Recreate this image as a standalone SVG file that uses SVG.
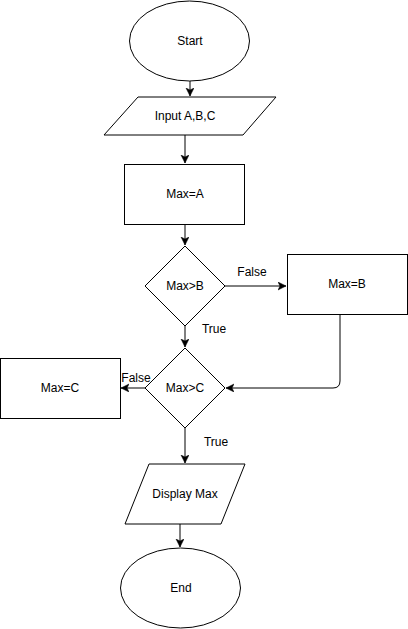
<svg xmlns="http://www.w3.org/2000/svg" width="408" height="629" viewBox="0 0 408 629">
<style>
.s{fill:#fff;stroke:#000;stroke-width:1}
.t{font-family:"Liberation Sans",Arial,sans-serif;font-size:12px;fill:#000;text-anchor:middle;dominant-baseline:central}
.c{fill:none;stroke:#000;stroke-width:1}
</style>
<defs>
<marker id="a" markerUnits="userSpaceOnUse" markerWidth="10" markerHeight="10" refX="8" refY="4" orient="auto">
<path d="M0,0 L8,4 L0,8 L2,4 z" fill="#000" stroke="#000" stroke-width="0.5"/>
</marker>
</defs>
<rect width="408" height="629" fill="#fff"/>
<g id="connectors">
<path class="c" d="M190,81 V96" marker-end="url(#a)"/>
<path class="c" d="M185,135 V163" marker-end="url(#a)"/>
<path class="c" d="M185,224 V245" marker-end="url(#a)"/>
<path class="c" d="M225,286 H286" marker-end="url(#a)"/>
<path class="c" d="M185,326 V347" marker-end="url(#a)"/>
<path class="c" d="M340,314 V381 Q340,388 333,388 H226" marker-end="url(#a)"/>
<path class="c" d="M145,388 H121" marker-end="url(#a)"/>
<path class="c" d="M185,428 V463" marker-end="url(#a)"/>
<path class="c" d="M180,524 V547" marker-end="url(#a)"/>
<text class="t" x="252" y="272">False</text>
<text class="t" x="214" y="329">True</text>
<text class="t" x="136" y="378">False</text>
<text class="t" x="216" y="442">True</text>
</g>
<g id="start"><ellipse class="s" cx="189.5" cy="41" rx="60" ry="40"/><text class="t" x="190" y="41">Start</text></g>
<g id="input"><polygon class="s" points="138,97 276,97 243,135 104,135"/><text class="t" x="185" y="116">Input A,B,C</text></g>
<g id="maxA"><rect class="s" x="124.5" y="164.5" width="120" height="60"/><text class="t" x="185" y="194">Max=A</text></g>
<g id="maxGtB"><polygon class="s" points="185,246 225,286 185,326 145,286"/><text class="t" x="185" y="286">Max&gt;B</text></g>
<g id="maxB"><rect class="s" x="287.5" y="254.5" width="120" height="60"/><text class="t" x="347" y="284">Max=B</text></g>
<g id="maxGtC"><polygon class="s" points="185,348 225,388 185,428 145,388"/><text class="t" x="185" y="388">Max&gt;C</text></g>
<g id="maxC"><rect class="s" x="0.5" y="358.5" width="120" height="60"/><text class="t" x="60" y="388">Max=C</text></g>
<g id="display"><polygon class="s" points="149,464 245,464 221,524 125,524"/><text class="t" x="185" y="494">Display Max</text></g>
<g id="end"><ellipse class="s" cx="180.5" cy="588" rx="60" ry="40"/><text class="t" x="181" y="588">End</text></g>
</svg>
